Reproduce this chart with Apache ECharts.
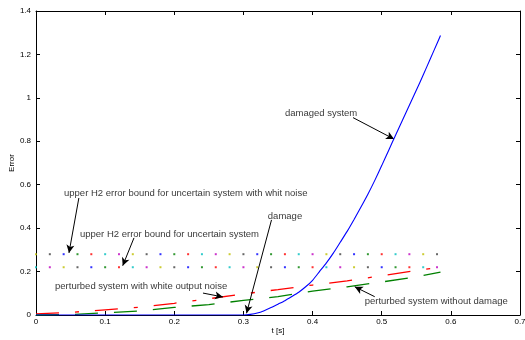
<!DOCTYPE html>
<html><head><meta charset="utf-8">
<script src="https://cdn.jsdelivr.net/npm/echarts@6/dist/echarts.min.js"></script>
<style>html,body{margin:0;padding:0;background:#fff}#c{width:525px;height:340px}</style>
</head><body><div id="c"></div>
<script>
// ---- data ----
const xTickLabels = ['0','0.1','0.2','0.3','0.4','0.5','0.6','0.7'];
const yTickLabels = ['0','0.2','0.4','0.6','0.8','1','1.2','1.4'];

const damagedT = [0, 0.30, 0.31, 0.32, 0.33, 0.34, 0.35, 0.36, 0.37, 0.38, 0.39, 0.40, 0.41, 0.42, 0.43, 0.44, 0.45, 0.46, 0.47, 0.48, 0.49, 0.50, 0.51, 0.52, 0.53, 0.54, 0.55, 0.56, 0.57, 0.58, 0.585];
const damagedV = [0, 0, 0.003, 0.009, 0.02, 0.034, 0.05, 0.066, 0.085, 0.105, 0.13, 0.16, 0.2, 0.24, 0.285, 0.335, 0.385, 0.44, 0.497, 0.556, 0.62, 0.688, 0.758, 0.828, 0.897, 0.966, 1.035, 1.105, 1.178, 1.25, 1.287];

const noiseT = [0, 0.05, 0.1, 0.15, 0.2, 0.25, 0.3, 0.35, 0.4, 0.45, 0.5, 0.55, 0.58];
const noiseV = [0.005, 0.012, 0.024, 0.036, 0.054, 0.075, 0.097, 0.117, 0.138, 0.157, 0.181, 0.205, 0.218];

const nodmgT = [0, 0.05, 0.1, 0.15, 0.2, 0.25, 0.3, 0.35, 0.4, 0.45, 0.5, 0.55, 0.585];
const nodmgV = [0, 0.002, 0.01, 0.019, 0.035, 0.048, 0.067, 0.085, 0.11, 0.13, 0.152, 0.176, 0.197];

const boundT = [0, 0.02, 0.04, 0.06, 0.08, 0.10, 0.12, 0.14, 0.16, 0.18, 0.20, 0.22, 0.24, 0.26, 0.28, 0.30, 0.32, 0.34, 0.36, 0.38, 0.40, 0.42, 0.44, 0.46, 0.48, 0.50, 0.52, 0.54, 0.56, 0.58];
const boundNoiseV = 0.28;
const boundV = 0.22;

const annoText = ['upper H2 error bound for uncertain system with whit noise', 'upper H2 error bound for uncertain system', 'perturbed system with white output noise', 'damage', 'damaged system', 'perturbed system without damage'];
const annoX = [0.0405, 0.0636, 0.0275, 0.3353, 0.360, 0.4754];
const annoY = [0.562, 0.369, 0.134, 0.456, 0.929, 0.0645];
const arrowFromX = [0.0620, 0.1417, 0.2415, 0.3406, 0.4585, 0.4899];
const arrowFromY = [0.539, 0.355, 0.101, 0.438, 0.909, 0.0843];
const arrowToX = [0.0477, 0.1254, 0.2704, 0.3045, 0.5178, 0.4610];
const arrowToY = [0.286, 0.227, 0.083, 0.008, 0.810, 0.130];

// ---- styles ----
const colorOrder = ['#0000ff', '#008000', '#ff0000', '#00bfbf', '#bf00bf', '#bfbf00', '#404040'];
const upperStart = 5; // yellow
const lowerStart = 3; // cyan
const FONT = "'Liberation Sans', Arial, sans-serif";

const zip = (a, b) => a.map((v, i) => [v, b[i]]);

const chart = echarts.init(document.getElementById('c'), null, {renderer: 'canvas'});

const axisCommon = {
  type: 'value',
  axisLine: {show: true, onZero: false, lineStyle: {color: '#000', width: 1}},
  axisTick: {show: true, inside: true, length: 4, lineStyle: {color: '#000', width: 1}},
  splitLine: {show: false},
};

chart.setOption({
  animation: false,
  backgroundColor: '#fff',
  grid: {left: 36, right: 5, top: 11, bottom: 25, containLabel: false, outerBoundsMode: 'none'},
  xAxis: [
    Object.assign({}, axisCommon, {
      position: 'bottom', min: 0, max: 0.7, interval: 0.1,
      name: 't [s]', nameLocation: 'middle', nameGap: 12, nameMoveOverlap: false,
      nameTextStyle: {fontFamily: FONT, fontSize: 8, color: '#000'},
      axisLabel: {fontFamily: FONT, fontSize: 8, color: '#000', margin: 3,
        formatter: (v) => xTickLabels[Math.round(v * 10)]}
    }),
    Object.assign({}, axisCommon, {
      position: 'top', min: 0, max: 0.7, interval: 0.1, axisLabel: {show: false}
    })
  ],
  yAxis: [
    Object.assign({}, axisCommon, {
      position: 'left', min: 0, max: 1.4, interval: 0.2,
      name: 'Error', nameLocation: 'middle', nameGap: 20, nameRotate: 90, nameMoveOverlap: false,
      nameTextStyle: {fontFamily: FONT, fontSize: 8, color: '#000'},
      axisLabel: {fontFamily: FONT, fontSize: 8, color: '#000', margin: 5,
        formatter: (v) => yTickLabels[Math.round(v * 5)]}
    }),
    Object.assign({}, axisCommon, {
      position: 'right', min: 0, max: 1.4, interval: 0.2, axisLabel: {show: false}
    })
  ],
  series: [
    {
      type: 'scatter', name: 'bound noise', symbol: 'rect', symbolSize: 2,
      data: boundT.map(t => [t, boundNoiseV]),
      itemStyle: {color: (p) => colorOrder[(upperStart + p.dataIndex) % 7]},
      z: 3
    },
    {
      type: 'scatter', name: 'bound', symbol: 'rect', symbolSize: 2,
      data: boundT.map(t => [t, boundV]),
      itemStyle: {color: (p) => colorOrder[(lowerStart + p.dataIndex) % 7]},
      z: 3
    },
    {
      type: 'line', name: 'noise', showSymbol: false, symbol: 'none',
      data: zip(noiseT, noiseV),
      lineStyle: {color: '#ff0000', width: 1.3, type: [23, 16, 4, 16]},
      z: 4
    },
    {
      type: 'line', name: 'nodmg', showSymbol: false, symbol: 'none',
      data: zip(nodmgT, nodmgV),
      lineStyle: {color: '#008000', width: 1.3, type: [23, 16]},
      z: 4
    },
    {
      type: 'line', name: 'damaged', showSymbol: false, symbol: 'none', smooth: 0.2,
      data: zip(damagedT, damagedV),
      lineStyle: {color: '#0000ff', width: 1.1, type: 'solid'},
      z: 5
    },
    {
      type: 'scatter', name: 'annotations', symbolSize: 0, silent: true,
      data: annoText.map((s, i) => [annoX[i], annoY[i], s]),
      label: {show: true, position: 'right', distance: 0, formatter: (p) => p.data[2],
        fontFamily: FONT, fontSize: 9.5, color: '#000'},
      markLine: {
        silent: true, animation: false,
        symbol: ['none', 'arrow'], symbolSize: [6, 8],
        label: {show: false},
        lineStyle: {color: '#000', width: 1, type: 'solid'},
        emphasis: {disabled: true},
        data: arrowFromX.map((x, i) => [
          {coord: [x, arrowFromY[i]]},
          {coord: [arrowToX[i], arrowToY[i]]}
        ])
      },
      z: 6
    }
  ]
});
</script>
</body></html>
